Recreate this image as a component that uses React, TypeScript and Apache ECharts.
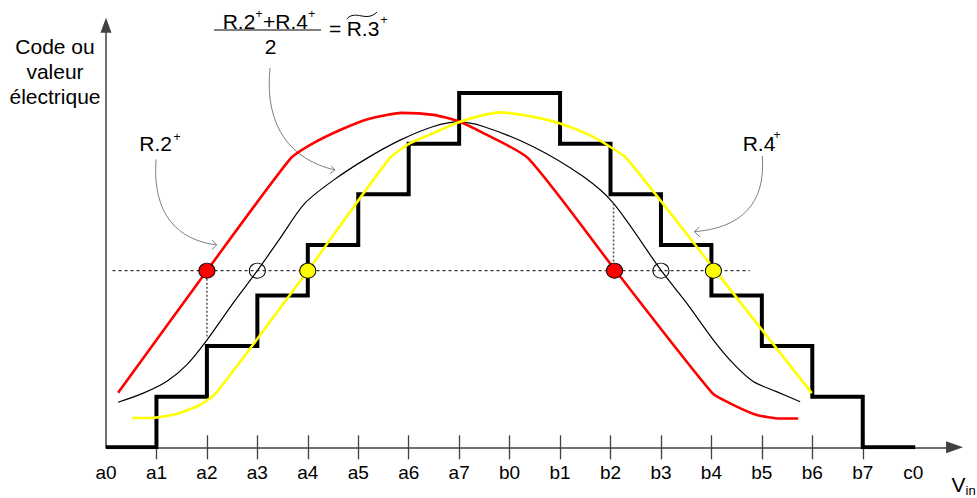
import React, { useEffect, useRef } from 'react';
import * as echarts from 'echarts';

// ---- data ----
const xLabels = ['a0', 'a1', 'a2', 'a3', 'a4', 'a5', 'a6', 'a7', 'b0', 'b1', 'b2', 'b3', 'b4', 'b5', 'b6', 'b7', 'c0'];
const labelPositions = [0, 1, 2, 3, 4, 5, 6, 7, 8, 9, 10, 11, 12, 13, 14, 15, 16];
const tickPositions = [1, 2, 3, 4, 5, 6, 7, 8, 9, 10, 11, 12, 13, 14, 15];

const stairX = [0, 1, 2, 3, 4, 5, 6, 7, 8, 9, 10, 11, 12, 13, 14, 15, 16.04];
const stairLevels = [0, 1, 2, 3, 4, 5, 6, 7, 7, 6, 5, 4, 3, 2, 1, 0, 0];

const r2X = [0.24, 2.0, 3.66, 4.11, 4.64, 5.17, 5.86, 6.49, 6.97, 7.48, 8.37, 10.08, 12.02, 12.43, 12.9, 13.36, 13.72];
const r2Y = [1.08, 3.49, 5.71, 6.01, 6.27, 6.48, 6.61, 6.57, 6.45, 6.21, 5.71, 3.52, 1.07, 0.84, 0.64, 0.57, 0.57];

const r4X = [0.52, 0.87, 1.4, 1.86, 2.19, 4.0, 5.62, 6.03, 6.49, 6.95, 7.41, 7.81, 8.47, 9.0, 9.59, 9.99, 10.32, 12.04, 13.99];
const r4Y = [0.58, 0.58, 0.66, 0.84, 1.08, 3.49, 5.71, 6.01, 6.21, 6.41, 6.55, 6.62, 6.53, 6.4, 6.17, 5.94, 5.71, 3.54, 1.07];

const r3X = [0.24, 0.74, 1.2, 1.6, 2.0, 2.52, 3.0, 3.45, 3.94, 4.51, 5.17, 5.83, 6.49, 6.98, 7.48, 8.47, 9.46, 10.06, 11.0, 11.51, 12.04, 12.43, 12.83, 13.29, 13.76];
const r3Y = [0.89, 1.07, 1.3, 1.63, 2.12, 2.85, 3.49, 4.13, 4.82, 5.28, 5.71, 6.07, 6.34, 6.43, 6.34, 5.94, 5.35, 4.82, 3.5, 2.85, 2.12, 1.66, 1.3, 1.1, 0.9];

const markY = 3.49;
const redMarkX = [2.0, 10.08];
const openMarkX = [3.0, 11.0];
const yellowMarkX = [4.0, 12.04];

const guideX = [0.13, 12.76];
const leftDropX = 2.0;
const leftDropY = [3.49, 2.19];
const rightDropX = 10.06;
const rightDropY = [4.82, 3.49];

const X_MAX = 16.82;
const Y_MAX = 8.34;

const FONT = "'Liberation Sans', Arial, sans-serif";

export default function App() {
  const ref = useRef<HTMLDivElement>(null);

  useEffect(() => {
    if (!ref.current) return;
    const chart = echarts.init(ref.current, undefined, { renderer: 'svg' });

    const arrowGray = '#7f7f7f';
    const txt = (text: string, x: number, y: number, size: number, align: string = 'left') => ({
      type: 'text',
      x,
      y,
      style: { text, fontSize: size, fontFamily: FONT, fill: '#000', align, verticalAlign: 'middle' },
    });

    const option: any = {
      animation: false,
      textStyle: { fontFamily: FONT },
      grid: { left: 106, top: 447.3 - Y_MAX * 50.6, width: X_MAX * 50.45, height: Y_MAX * 50.6, containLabel: false },
      xAxis: [
        {
          type: 'value',
          min: 0,
          max: X_MAX,
          position: 'bottom',
          axisLine: {
            show: true,
            symbol: ['none', 'triangle'],
            symbolSize: [12, 17],
            lineStyle: { color: '#404040', width: 1.5 },
          },
          axisTick: { show: true, inside: true, length: 12, customValues: tickPositions, lineStyle: { color: '#404040', width: 1.3 } },
          axisLabel: {
            show: true,
            customValues: labelPositions,
            formatter: (v: number) => xLabels[Math.round(v)] ?? '',
            fontSize: 19,
            color: '#000',
            margin: 16,
            fontFamily: FONT,
          },
          splitLine: { show: false },
        },
        {
          type: 'value',
          min: 0,
          max: X_MAX,
          position: 'bottom',
          axisLine: { show: false },
          axisTick: { show: true, inside: false, length: 12, customValues: tickPositions, lineStyle: { color: '#404040', width: 1.3 } },
          axisLabel: { show: false },
          splitLine: { show: false },
        },
      ],
      yAxis: {
        type: 'value',
        min: 0,
        max: Y_MAX,
        axisLine: {
          show: true,
          symbol: ['none', 'triangle'],
          symbolSize: [11, 15],
          lineStyle: { color: '#404040', width: 1.5 },
        },
        axisTick: { show: false },
        axisLabel: { show: false },
        splitLine: { show: false },
      },
      series: [
        {
          type: 'line',
          step: 'end',
          data: stairX.map((x, i) => [x, stairLevels[i]]),
          symbol: 'none',
          lineStyle: { color: '#000', width: 4, join: 'miter', cap: 'butt' },
          z: 3,
        },
        {
          type: 'line',
          data: r3X.map((x, i) => [x, r3Y[i]]),
          symbol: 'none',
          smooth: 0.3,
          lineStyle: { color: '#000', width: 1.2 },
          z: 4,
        },
        {
          type: 'line',
          data: r2X.map((x, i) => [x, r2Y[i]]),
          symbol: 'none',
          smooth: 0.2,
          lineStyle: { color: '#ff0000', width: 2.6 },
          z: 5,
        },
        {
          type: 'line',
          data: r4X.map((x, i) => [x, r4Y[i]]),
          symbol: 'none',
          smooth: 0.2,
          lineStyle: { color: '#ffff00', width: 2.6 },
          z: 6,
        },
        {
          type: 'line',
          data: guideX.map((x) => [x, markY]),
          symbol: 'none',
          lineStyle: { color: '#000', width: 1, type: [3, 3] },
          z: 7,
        },
        {
          type: 'line',
          data: leftDropY.map((y) => [leftDropX, y]),
          symbol: 'none',
          lineStyle: { color: '#555', width: 1.5, type: [2, 2] },
          z: 7,
        },
        {
          type: 'line',
          data: rightDropY.map((y) => [rightDropX, y]),
          symbol: 'none',
          lineStyle: { color: '#555', width: 1.5, type: [2, 2] },
          z: 7,
        },
        {
          type: 'scatter',
          data: redMarkX.map((x) => [x, markY]),
          symbol: 'circle',
          symbolSize: [16, 15],
          itemStyle: { color: '#ff0000', borderColor: '#000', borderWidth: 1, opacity: 1 },
          z: 10,
        },
        {
          type: 'scatter',
          data: openMarkX.map((x) => [x, markY]),
          symbol: 'circle',
          symbolSize: [16, 15],
          itemStyle: { color: 'rgba(0,0,0,0)', borderColor: '#000', borderWidth: 1, opacity: 1 },
          z: 10,
        },
        {
          type: 'scatter',
          data: yellowMarkX.map((x) => [x, markY]),
          symbol: 'circle',
          symbolSize: [16, 15],
          itemStyle: { color: '#ffff00', borderColor: '#000', borderWidth: 1, opacity: 1 },
          z: 10,
        },
      ],
      graphic: [
        // y axis title
        {
          type: 'text',
          x: 55,
          y: 71,
          style: {
            text: 'Code ou\nvaleur\nélectrique',
            fontSize: 21,
            lineHeight: 25,
            fontFamily: FONT,
            fill: '#000',
            align: 'center',
            verticalAlign: 'middle',
          },
        },
        // V_in
        txt('V', 951.5, 484, 21),
        txt('in', 965.5, 490, 13),
        // R.2+
        txt('R.2', 139.3, 143, 21),
        txt('+', 173.5, 137, 12),
        // R.4+
        txt('R.4', 742.7, 143, 21),
        txt('+', 773.5, 135, 12),
        // formula
        txt('R.2', 222.7, 21, 21),
        txt('+', 255.6, 14, 12),
        txt('+R.4', 263, 21, 21),
        txt('+', 308.3, 14, 12),
        {
          type: 'line',
          shape: { x1: 214, y1: 30, x2: 321, y2: 30 },
          style: { stroke: '#000', lineWidth: 1 },
        },
        txt('2', 270.5, 46.5, 21, 'center'),
        txt('=', 329, 28, 21),
        txt('R.3', 346.7, 28, 21),
        txt('+', 380.5, 20, 12),
        {
          type: 'bezierCurve',
          shape: { x1: 346.7, y1: 19, cpx1: 356, cpy1: 9, cpx2: 366, cpy2: 23, x2: 377, y2: 12 },
          style: { stroke: '#000', lineWidth: 1, fill: 'none' },
        },
        // arrows
        {
          type: 'bezierCurve',
          shape: { x1: 156, y1: 159.3, cpx1: 152, cpy1: 215, cpx2: 178, cpy2: 240, x2: 216.7, y2: 245 },
          style: { stroke: arrowGray, lineWidth: 1, fill: 'none' },
        },
        {
          type: 'polyline',
          shape: { points: [[212, 240], [216.7, 245], [212, 249.5]] },
          style: { stroke: arrowGray, lineWidth: 1, fill: 'none' },
        },
        {
          type: 'bezierCurve',
          shape: { x1: 762.3, y1: 156, cpx1: 766, cpy1: 205, cpx2: 740, cpy2: 228, x2: 694.3, y2: 231.7 },
          style: { stroke: arrowGray, lineWidth: 1, fill: 'none' },
        },
        {
          type: 'polyline',
          shape: { points: [[699.3, 227], [694.3, 231.7], [700, 236.7]] },
          style: { stroke: arrowGray, lineWidth: 1, fill: 'none' },
        },
        {
          type: 'bezierCurve',
          shape: { x1: 270, y1: 68, cpx1: 264, cpy1: 128, cpx2: 292, cpy2: 160, x2: 335, y2: 170 },
          style: { stroke: arrowGray, lineWidth: 1, fill: 'none' },
        },
        {
          type: 'polyline',
          shape: { points: [[331, 165.5], [335, 170], [330, 173.5]] },
          style: { stroke: arrowGray, lineWidth: 1, fill: 'none' },
        },
      ],
    };

    chart.setOption(option);
    return () => chart.dispose();
  }, []);

  return <div ref={ref} style={{ position: 'absolute', left: 0, top: 0, width: 977, height: 498 }} />;
}
